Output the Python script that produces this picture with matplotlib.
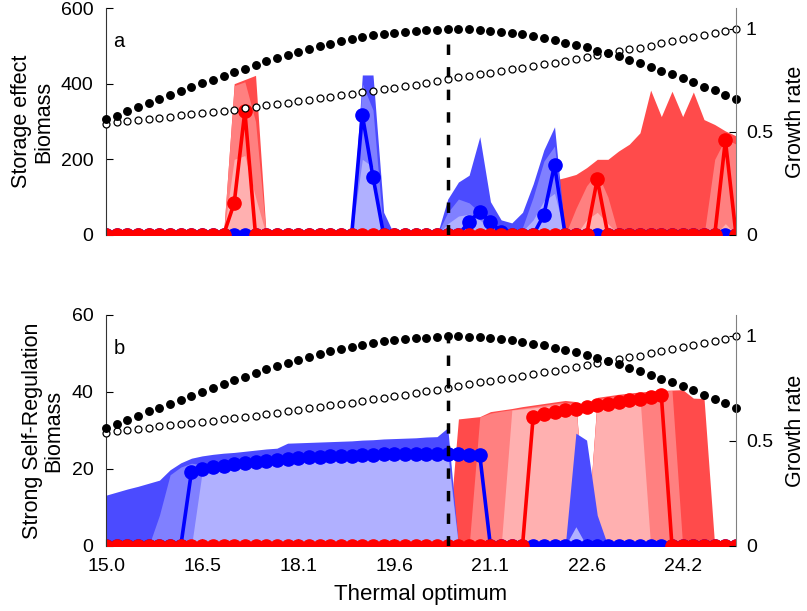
import numpy as np
import matplotlib
matplotlib.use("Agg")
import matplotlib.pyplot as plt

plt.rcParams['font.family'] = ['Liberation Sans', 'DejaVu Sans']
plt.rcParams['font.size'] = 14

# thermal optima of the 60 species
n_pts = 60
thermal_opt = np.linspace(15, 25, n_pts)
i_peak = 32  # optimum of the growth curve (dashed line)

# growth rate at the mean temperature (filled) and at the warm end (open)
growth_filled = [0.564, 0.579, 0.600, 0.620, 0.641, 0.657, 0.677, 0.696, 0.715, 0.735,
                 0.753, 0.771, 0.789, 0.806, 0.824, 0.841, 0.857, 0.872, 0.886, 0.901,
                 0.914, 0.927, 0.938, 0.948, 0.958, 0.967, 0.974, 0.980, 0.985, 0.989,
                 0.992, 0.995, 1.000, 0.999, 0.997, 0.994, 0.990, 0.985, 0.979, 0.972,
                 0.964, 0.955, 0.944, 0.932, 0.922, 0.909, 0.894, 0.881, 0.866, 0.847,
                 0.834, 0.814, 0.797, 0.779, 0.761, 0.741, 0.719, 0.701, 0.680, 0.658]
growth_open = [0.538, 0.548, 0.553, 0.559, 0.564, 0.569, 0.574, 0.580, 0.585, 0.590,
               0.597, 0.603, 0.608, 0.615, 0.621, 0.628, 0.634, 0.641, 0.647, 0.655,
               0.662, 0.670, 0.677, 0.683, 0.691, 0.698, 0.706, 0.714, 0.720, 0.728,
               0.737, 0.745, 0.754, 0.764, 0.771, 0.779, 0.787, 0.794, 0.802, 0.810,
               0.818, 0.828, 0.834, 0.844, 0.854, 0.863, 0.872, 0.880, 0.891, 0.899,
               0.907, 0.917, 0.928, 0.938, 0.948, 0.958, 0.967, 0.977, 0.987, 0.998]

# biomass per species index {index: value}, species not listed are 0
# hi3 / hi2 / hi1 = outer / middle / inner envelope, med = shown run
a_blue_med = {24: 317, 25: 154, 34: 35, 35: 62, 36: 35, 37: 8, 41: 53, 42: 185}
a_blue_hi3 = {24: 423, 25: 423, 26: 60, 32: 95, 33: 140, 34: 158, 35: 260, 36: 88,
              37: 40, 38: 32, 39: 60, 40: 135, 41: 225, 42: 286}
a_blue_hi2 = {24: 400, 25: 330, 32: 60, 33: 95, 34: 85, 35: 60, 36: 25, 37: 10,
              38: 10, 39: 20, 40: 100, 41: 195, 42: 235}
a_blue_hi1 = {24: 200, 25: 180, 32: 30, 33: 50, 34: 55, 35: 40, 36: 15, 37: 5,
              38: 5, 39: 10, 40: 40, 41: 90, 42: 110}
a_red_med = {12: 84, 13: 327, 46: 147, 58: 250}
a_red_hi3 = {12: 400, 13: 411, 14: 422, 40: 115, 41: 140, 42: 145, 43: 152, 44: 160,
             45: 178, 46: 200, 47: 200, 48: 222, 49: 240, 50: 270, 51: 383, 52: 313,
             53: 380, 54: 313, 55: 378, 56: 305, 57: 292, 58: 275, 59: 262}
a_red_hi2 = {12: 395, 13: 405, 14: 300, 44: 70, 45: 130, 46: 165, 47: 100,
             57: 200, 58: 255, 59: 240}
a_red_hi1 = {12: 200, 13: 210, 14: 100, 45: 40, 46: 60, 47: 30, 58: 30}

b_blue_med = {8: 19.3, 9: 19.9, 10: 20.4, 11: 20.8, 12: 21.2, 13: 21.5, 14: 21.8,
              15: 22.1, 16: 22.3, 17: 22.6, 18: 22.8, 19: 23.0, 20: 23.1, 21: 23.3,
              22: 23.4, 23: 23.5, 24: 23.6, 25: 23.7, 26: 23.8, 27: 23.8, 28: 23.9,
              29: 23.9, 30: 24.0, 31: 24.0, 32: 23.9, 33: 23.8, 34: 23.7, 35: 23.6}
b_blue_hi3 = {0: 13.2, 1: 14.0, 2: 14.8, 3: 15.5, 4: 16.3, 5: 17.1, 6: 19.8, 7: 21.6,
              8: 22.8, 9: 23.4, 10: 23.8, 11: 24.1, 12: 24.3, 13: 24.6, 14: 24.9,
              15: 25.2, 16: 25.4, 17: 26.7, 18: 26.8, 19: 26.9, 20: 27.0, 21: 27.1,
              22: 27.2, 23: 27.3, 24: 27.5, 25: 27.6, 26: 27.8, 27: 27.9, 28: 28.0,
              29: 28.1, 30: 28.3, 31: 28.4, 32: 30.7, 44: 29.3, 45: 27.5, 46: 8}
b_blue_hi2 = {5: 8, 6: 18.5, 7: 20.5, 8: 21.5, 9: 21.1, 10: 21.6, 11: 22.0, 12: 22.4,
              13: 22.7, 14: 23.0, 15: 23.3, 16: 23.5, 17: 23.8, 18: 24.0, 19: 24.2,
              20: 24.3, 21: 24.5, 22: 24.6, 23: 24.7, 24: 24.8, 25: 24.9, 26: 25.0,
              27: 25.1, 28: 25.1, 29: 25.1, 30: 25.2, 31: 25.2, 32: 25.2}
b_blue_hi1 = {9: 19.2, 10: 19.8, 11: 20.2, 12: 20.6, 13: 20.9, 14: 21.2, 15: 21.5,
              16: 21.7, 17: 22.0, 18: 22.2, 19: 22.4, 20: 22.5, 21: 22.7, 22: 22.8,
              23: 22.9, 24: 23.0, 25: 23.1, 26: 23.2, 27: 23.3, 28: 23.3, 29: 23.3,
              30: 23.4, 31: 23.4, 32: 23.3, 44: 5}
b_red_med = {40: 33.6, 41: 34.2, 42: 34.8, 43: 35.3, 44: 35.7, 45: 36.1, 46: 36.6,
             47: 37.0, 48: 37.4, 49: 37.8, 50: 38.2, 51: 38.7, 52: 39.2}
b_red_hi3 = {33: 33.0, 34: 33.3, 35: 33.6, 36: 34.9, 37: 35.3, 38: 35.7, 39: 36.2,
             40: 36.6, 41: 37.0, 42: 37.4, 43: 37.8, 44: 37.5, 46: 38.6, 47: 39.0,
             48: 39.4, 49: 39.7, 50: 40.0, 51: 40.2, 52: 40.4, 53: 40.5, 54: 40.6,
             55: 38.4, 56: 38.3}
b_red_hi2 = {35: 33.5, 36: 34.5, 37: 35.0, 38: 35.4, 39: 35.8, 40: 36.2, 41: 36.6,
             42: 37.0, 43: 37.3, 44: 37.0, 46: 38.2, 47: 38.6, 48: 39.0, 49: 39.3,
             50: 39.6, 51: 39.9, 52: 40.2, 53: 40.4}
b_red_hi1 = {38: 35.3, 39: 35.6, 40: 35.9, 41: 36.2, 42: 36.5, 43: 36.8, 44: 36.5,
             46: 37.5, 47: 37.8, 48: 38.1, 49: 38.4, 50: 38.7}

blue_cols = ['#4b4bff', '#8080ff', '#b0b0ff']
red_cols = ['#ff4b4b', '#ff8080', '#ffb0b0']


def dense(d):
    arr = np.zeros(n_pts)
    for k, v in d.items():
        arr[k] = v
    return arr


def draw_panel(ax, blue, red, ymax, yticks, ylabel, letter):
    x = thermal_opt
    # envelopes: red first, blue on top
    for bands, cols in ((red[1:], red_cols), (blue[1:], blue_cols)):
        for hi, c in zip(bands, cols):
            ax.fill_between(x, 0, dense(hi), color=c, lw=0)
    ax.plot(x, dense(blue[0]), '-o', color='#0000ff', lw=2.6, ms=9.5)
    ax.plot(x, dense(red[0]), '-o', color='#ff0000', lw=2.6, ms=9.5)

    ax.set_xlim(15, 25)
    ax.set_ylim(0, ymax)
    ax.set_yticks(yticks)
    ax.set_xticks(x[::9])
    ax.set_xticklabels(['%.1f' % v for v in x[::9]])
    ax.set_ylabel(ylabel, linespacing=1.05, fontsize=15.5, labelpad=5)
    ax.tick_params(direction='in', length=5, width=0.8)
    ax.tick_params(axis='y', pad=9)
    ax.tick_params(axis='x', pad=9)
    for s in ('top', 'bottom', 'right'):
        ax.spines[s].set_visible(False)
    ax.spines['left'].set_color('#333333')
    ax.text(0.012, 0.83, letter, transform=ax.transAxes, fontsize=14.5)

    ax2 = ax.twinx()
    ax2.plot(x, growth_open, 'o', mfc='white', mec='k', ms=5.0, mew=0.9, clip_on=False)
    ax2.plot(x, growth_filled, 'o', color='k', ms=5.4, clip_on=False)
    ax2.plot([x[i_peak], x[i_peak]], [0, 1], color='k', lw=2.5, dashes=(3, 3.5))
    ax2.set_ylim(0, 1.1)
    ax2.set_yticks([0, 0.5, 1])
    ax2.set_yticklabels(['0', '0.5', '1'])
    ax2.set_ylabel('Growth rate', fontsize=15.5, labelpad=9)
    ax2.tick_params(direction='in', length=5, width=0.8, pad=7)
    for s in ('top', 'bottom', 'left'):
        ax2.spines[s].set_visible(False)
    ax2.spines['right'].set_color('#808080')
    return ax2


fig = plt.figure(figsize=(8.07, 6.11), dpi=100)
ax_a = fig.add_axes([0.1314, 0.6154, 0.7807, 0.3715])
ax_b = fig.add_axes([0.1314, 0.1064, 0.7807, 0.3781])

draw_panel(ax_a, [a_blue_med, a_blue_hi3, a_blue_hi2, a_blue_hi1],
           [a_red_med, a_red_hi3, a_red_hi2, a_red_hi1],
           600, [0, 200, 400, 600], 'Storage effect\nBiomass', 'a')
ax_a.set_xticklabels([])

draw_panel(ax_b, [b_blue_med, b_blue_hi3, b_blue_hi2, b_blue_hi1],
           [b_red_med, b_red_hi3, b_red_hi2, b_red_hi1],
           60, [0, 20, 40, 60], 'Strong Self-Regulation\nBiomass', 'b')
ax_b.set_xlabel('Thermal optimum', fontsize=16, labelpad=6)

fig.savefig('out.png', dpi=100)
